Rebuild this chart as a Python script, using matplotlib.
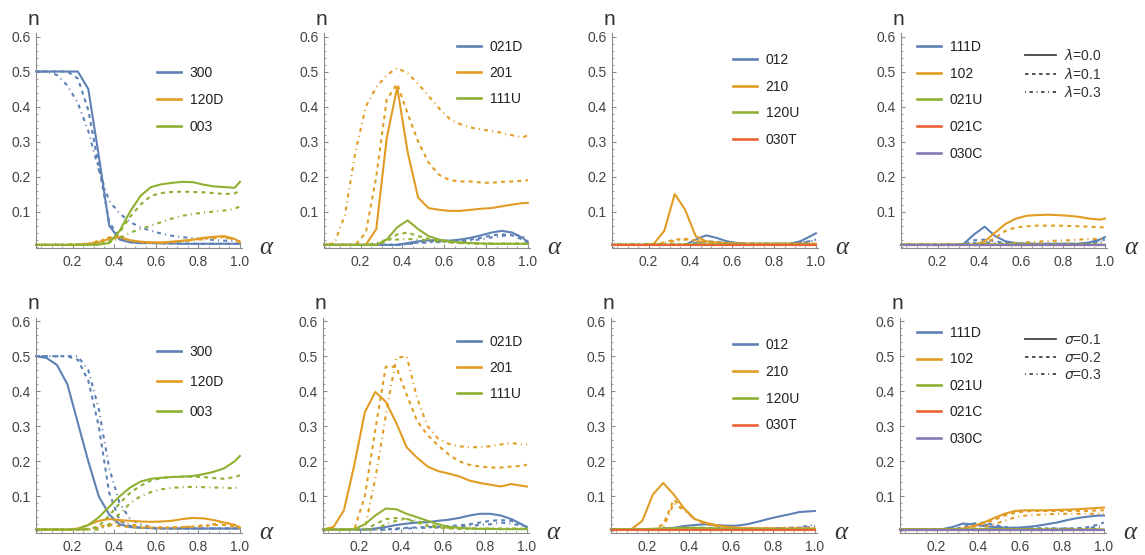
import matplotlib
matplotlib.use('Agg')
import matplotlib.pyplot as plt
from matplotlib.lines import Line2D
from matplotlib.ticker import FixedLocator, MultipleLocator

plt.rcParams['font.family'] = ['Liberation Sans', 'DejaVu Sans']

# alpha grid of the simulations
ALPHA = [0.025, 0.075, 0.125, 0.175, 0.225, 0.275, 0.325, 0.375, 0.425, 0.475,
         0.525, 0.575, 0.625, 0.675, 0.725, 0.775, 0.825, 0.875, 0.925, 0.975, 1.0]

# ---- top row: lambda = 0.0 / 0.1 / 0.3  (solid, dashed, dot-dashed) ----
L_300 = [
    [0.50, 0.50, 0.50, 0.50, 0.50, 0.45, 0.26, 0.06, 0.020, 0.012, 0.010, 0.010, 0.009, 0.009, 0.008, 0.008, 0.008, 0.008, 0.008, 0.008, 0.008],
    [0.50, 0.50, 0.50, 0.50, 0.48, 0.39, 0.23, 0.07, 0.025, 0.015, 0.012, 0.010, 0.010, 0.009, 0.009, 0.008, 0.008, 0.008, 0.008, 0.008, 0.008],
    [0.50, 0.50, 0.49, 0.46, 0.41, 0.33, 0.22, 0.13, 0.095, 0.070, 0.055, 0.045, 0.037, 0.031, 0.027, 0.024, 0.021, 0.019, 0.017, 0.016, 0.015],
]
L_120D = [
    [0.005, 0.005, 0.005, 0.005, 0.006, 0.008, 0.012, 0.022, 0.027, 0.018, 0.014, 0.012, 0.012, 0.014, 0.017, 0.020, 0.025, 0.028, 0.030, 0.022, 0.012],
    [0.005, 0.005, 0.005, 0.005, 0.006, 0.008, 0.014, 0.025, 0.028, 0.017, 0.013, 0.011, 0.011, 0.013, 0.016, 0.019, 0.023, 0.026, 0.028, 0.020, 0.012],
    [0.005, 0.005, 0.005, 0.005, 0.006, 0.009, 0.016, 0.026, 0.030, 0.018, 0.013, 0.011, 0.011, 0.012, 0.015, 0.018, 0.021, 0.024, 0.026, 0.022, 0.014],
]
L_003 = [
    [0.005, 0.005, 0.005, 0.005, 0.005, 0.005, 0.006, 0.010, 0.045, 0.100, 0.145, 0.170, 0.178, 0.182, 0.185, 0.184, 0.177, 0.172, 0.170, 0.168, 0.185],
    [0.005, 0.005, 0.005, 0.005, 0.005, 0.005, 0.006, 0.015, 0.040, 0.085, 0.120, 0.145, 0.153, 0.156, 0.157, 0.156, 0.155, 0.153, 0.150, 0.152, 0.160],
    [0.005, 0.005, 0.005, 0.005, 0.005, 0.005, 0.006, 0.012, 0.025, 0.040, 0.050, 0.060, 0.070, 0.080, 0.088, 0.093, 0.097, 0.100, 0.103, 0.108, 0.115],
]
L_021D = [
    [0.005, 0.005, 0.005, 0.005, 0.005, 0.005, 0.005, 0.005, 0.010, 0.015, 0.018, 0.018, 0.017, 0.020, 0.025, 0.032, 0.040, 0.045, 0.040, 0.025, 0.012],
    [0.005, 0.005, 0.005, 0.005, 0.005, 0.005, 0.005, 0.005, 0.008, 0.012, 0.014, 0.015, 0.015, 0.016, 0.020, 0.025, 0.032, 0.035, 0.032, 0.020, 0.010],
    [0.005, 0.005, 0.005, 0.005, 0.005, 0.005, 0.005, 0.005, 0.007, 0.010, 0.012, 0.013, 0.013, 0.014, 0.017, 0.021, 0.026, 0.030, 0.035, 0.030, 0.015],
]
L_201 = [
    [0.005, 0.005, 0.005, 0.005, 0.005, 0.050, 0.310, 0.455, 0.270, 0.140, 0.110, 0.105, 0.102, 0.102, 0.105, 0.108, 0.110, 0.115, 0.120, 0.124, 0.125],
    [0.005, 0.005, 0.005, 0.005, 0.040, 0.200, 0.420, 0.465, 0.380, 0.300, 0.240, 0.205, 0.190, 0.186, 0.186, 0.183, 0.182, 0.185, 0.186, 0.188, 0.190],
    [0.005, 0.010, 0.090, 0.270, 0.400, 0.455, 0.490, 0.510, 0.495, 0.465, 0.430, 0.395, 0.365, 0.350, 0.340, 0.335, 0.330, 0.325, 0.318, 0.312, 0.318],
]
L_111U = [
    [0.005, 0.005, 0.005, 0.005, 0.005, 0.005, 0.020, 0.055, 0.075, 0.050, 0.030, 0.020, 0.015, 0.012, 0.010, 0.009, 0.008, 0.008, 0.008, 0.008, 0.008],
    [0.005, 0.005, 0.005, 0.005, 0.005, 0.005, 0.015, 0.035, 0.040, 0.030, 0.022, 0.016, 0.012, 0.010, 0.009, 0.008, 0.008, 0.008, 0.008, 0.008, 0.008],
    [0.005, 0.005, 0.005, 0.005, 0.005, 0.010, 0.020, 0.020, 0.022, 0.020, 0.018, 0.015, 0.013, 0.011, 0.010, 0.009, 0.009, 0.009, 0.009, 0.009, 0.009],
]
L_012 = [
    [0.005, 0.005, 0.005, 0.005, 0.005, 0.005, 0.005, 0.005, 0.020, 0.032, 0.025, 0.015, 0.010, 0.008, 0.008, 0.008, 0.008, 0.008, 0.015, 0.030, 0.038],
    [0.005, 0.005, 0.005, 0.005, 0.005, 0.005, 0.005, 0.005, 0.010, 0.015, 0.014, 0.011, 0.009, 0.008, 0.008, 0.008, 0.008, 0.008, 0.010, 0.016, 0.020],
    [0.005, 0.005, 0.005, 0.005, 0.005, 0.005, 0.005, 0.005, 0.008, 0.012, 0.012, 0.010, 0.009, 0.008, 0.008, 0.008, 0.008, 0.008, 0.010, 0.015, 0.022],
]
L_210 = [
    [0.005, 0.005, 0.005, 0.005, 0.008, 0.045, 0.150, 0.105, 0.030, 0.015, 0.012, 0.010, 0.009, 0.008, 0.008, 0.008, 0.008, 0.008, 0.008, 0.008, 0.008],
    [0.005, 0.005, 0.005, 0.005, 0.005, 0.012, 0.020, 0.022, 0.018, 0.012, 0.010, 0.009, 0.008, 0.008, 0.008, 0.008, 0.008, 0.008, 0.008, 0.008, 0.008],
    [0.005, 0.005, 0.005, 0.005, 0.005, 0.010, 0.016, 0.020, 0.016, 0.012, 0.010, 0.009, 0.008, 0.008, 0.008, 0.008, 0.008, 0.008, 0.008, 0.008, 0.008],
]
L_120U = [
    [0.005, 0.005, 0.005, 0.005, 0.005, 0.005, 0.005, 0.006, 0.006, 0.006, 0.006, 0.006, 0.006, 0.006, 0.005, 0.005, 0.005, 0.005, 0.005, 0.005, 0.005],
    [0.005, 0.005, 0.005, 0.005, 0.005, 0.005, 0.005, 0.006, 0.006, 0.006, 0.006, 0.006, 0.006, 0.005, 0.005, 0.005, 0.005, 0.005, 0.005, 0.005, 0.005],
    [0.006, 0.006, 0.006, 0.006, 0.006, 0.006, 0.006, 0.006, 0.006, 0.006, 0.006, 0.006, 0.006, 0.006, 0.006, 0.006, 0.006, 0.006, 0.006, 0.006, 0.006],
]
L_030T = [
    [0.004, 0.004, 0.004, 0.004, 0.004, 0.004, 0.004, 0.004, 0.004, 0.004, 0.004, 0.004, 0.004, 0.004, 0.004, 0.004, 0.004, 0.004, 0.004, 0.004, 0.004],
    [0.004, 0.004, 0.004, 0.004, 0.004, 0.004, 0.004, 0.004, 0.004, 0.004, 0.004, 0.004, 0.004, 0.004, 0.004, 0.004, 0.004, 0.004, 0.004, 0.004, 0.004],
    [0.004, 0.004, 0.004, 0.004, 0.004, 0.004, 0.004, 0.004, 0.004, 0.004, 0.004, 0.004, 0.004, 0.004, 0.004, 0.004, 0.004, 0.004, 0.004, 0.004, 0.004],
]
L_111D = [
    [0.005, 0.005, 0.005, 0.005, 0.005, 0.005, 0.008, 0.035, 0.057, 0.030, 0.015, 0.010, 0.008, 0.008, 0.008, 0.008, 0.008, 0.008, 0.012, 0.020, 0.027],
    [0.005, 0.005, 0.005, 0.005, 0.005, 0.005, 0.005, 0.018, 0.020, 0.015, 0.010, 0.008, 0.008, 0.008, 0.008, 0.008, 0.008, 0.008, 0.010, 0.016, 0.020],
    [0.005, 0.005, 0.005, 0.005, 0.005, 0.005, 0.005, 0.010, 0.012, 0.010, 0.008, 0.008, 0.008, 0.008, 0.008, 0.008, 0.008, 0.008, 0.009, 0.012, 0.015],
]
L_102 = [
    [0.005, 0.005, 0.005, 0.005, 0.005, 0.005, 0.005, 0.005, 0.015, 0.040, 0.065, 0.080, 0.088, 0.090, 0.091, 0.090, 0.088, 0.085, 0.080, 0.077, 0.080],
    [0.005, 0.005, 0.005, 0.005, 0.005, 0.005, 0.005, 0.005, 0.008, 0.025, 0.045, 0.055, 0.058, 0.060, 0.060, 0.060, 0.059, 0.058, 0.057, 0.055, 0.055],
    [0.005, 0.005, 0.005, 0.005, 0.005, 0.005, 0.005, 0.005, 0.005, 0.005, 0.008, 0.010, 0.012, 0.014, 0.016, 0.017, 0.018, 0.020, 0.022, 0.022, 0.022],
]
L_021U = L_120U
L_021C = L_030T
L_030C = L_030T

# ---- bottom row: sigma = 0.1 / 0.2 / 0.3 ----
S_300 = [
    [0.50, 0.495, 0.475, 0.42, 0.31, 0.20, 0.10, 0.048, 0.020, 0.012, 0.010, 0.009, 0.008, 0.008, 0.008, 0.008, 0.008, 0.008, 0.008, 0.008, 0.008],
    [0.50, 0.50, 0.50, 0.50, 0.49, 0.43, 0.30, 0.11, 0.030, 0.015, 0.010, 0.009, 0.008, 0.008, 0.008, 0.008, 0.008, 0.008, 0.008, 0.008, 0.008],
    [0.50, 0.50, 0.50, 0.50, 0.50, 0.46, 0.35, 0.18, 0.080, 0.035, 0.020, 0.012, 0.010, 0.009, 0.008, 0.008, 0.008, 0.008, 0.008, 0.008, 0.008],
]
S_120D = [
    [0.005, 0.005, 0.005, 0.005, 0.008, 0.018, 0.030, 0.035, 0.032, 0.030, 0.028, 0.027, 0.028, 0.030, 0.035, 0.038, 0.037, 0.032, 0.025, 0.018, 0.010],
    [0.005, 0.005, 0.005, 0.005, 0.005, 0.007, 0.012, 0.020, 0.015, 0.012, 0.010, 0.010, 0.010, 0.011, 0.012, 0.013, 0.015, 0.018, 0.018, 0.013, 0.010],
    [0.005, 0.005, 0.005, 0.005, 0.005, 0.006, 0.010, 0.015, 0.030, 0.020, 0.015, 0.012, 0.011, 0.011, 0.012, 0.014, 0.017, 0.020, 0.025, 0.020, 0.012],
]
S_003 = [
    [0.005, 0.005, 0.005, 0.005, 0.006, 0.018, 0.040, 0.070, 0.100, 0.125, 0.142, 0.150, 0.153, 0.155, 0.156, 0.158, 0.163, 0.170, 0.180, 0.200, 0.215],
    [0.005, 0.005, 0.005, 0.005, 0.005, 0.005, 0.015, 0.045, 0.080, 0.110, 0.130, 0.145, 0.152, 0.155, 0.156, 0.156, 0.155, 0.152, 0.150, 0.155, 0.160],
    [0.005, 0.005, 0.005, 0.005, 0.005, 0.005, 0.005, 0.020, 0.050, 0.080, 0.100, 0.112, 0.120, 0.124, 0.126, 0.127, 0.126, 0.125, 0.125, 0.122, 0.130],
]
S_021D = [
    [0.005, 0.005, 0.005, 0.005, 0.005, 0.008, 0.012, 0.018, 0.022, 0.025, 0.026, 0.030, 0.033, 0.038, 0.045, 0.050, 0.050, 0.045, 0.035, 0.020, 0.012],
    [0.005, 0.005, 0.005, 0.005, 0.005, 0.005, 0.005, 0.008, 0.010, 0.011, 0.012, 0.013, 0.015, 0.017, 0.020, 0.025, 0.030, 0.032, 0.030, 0.020, 0.012],
    [0.005, 0.005, 0.005, 0.005, 0.005, 0.005, 0.005, 0.006, 0.008, 0.009, 0.010, 0.011, 0.012, 0.014, 0.016, 0.018, 0.020, 0.025, 0.022, 0.016, 0.010],
]
S_201 = [
    [0.005, 0.012, 0.060, 0.190, 0.340, 0.398, 0.370, 0.310, 0.240, 0.210, 0.185, 0.172, 0.165, 0.157, 0.145, 0.138, 0.133, 0.128, 0.135, 0.130, 0.128],
    [0.005, 0.005, 0.005, 0.006, 0.100, 0.290, 0.470, 0.470, 0.390, 0.315, 0.275, 0.245, 0.220, 0.200, 0.190, 0.185, 0.182, 0.182, 0.185, 0.187, 0.190],
    [0.005, 0.005, 0.005, 0.005, 0.008, 0.150, 0.330, 0.495, 0.500, 0.380, 0.300, 0.265, 0.250, 0.243, 0.240, 0.240, 0.243, 0.248, 0.252, 0.248, 0.248],
]
S_111U = [
    [0.005, 0.005, 0.005, 0.006, 0.020, 0.045, 0.065, 0.063, 0.050, 0.040, 0.030, 0.020, 0.013, 0.010, 0.008, 0.007, 0.007, 0.006, 0.006, 0.006, 0.006],
    [0.005, 0.005, 0.005, 0.005, 0.005, 0.020, 0.035, 0.038, 0.035, 0.025, 0.015, 0.010, 0.008, 0.007, 0.007, 0.007, 0.007, 0.007, 0.007, 0.007, 0.007],
    [0.005, 0.005, 0.005, 0.005, 0.005, 0.005, 0.020, 0.030, 0.035, 0.030, 0.020, 0.013, 0.010, 0.008, 0.008, 0.008, 0.008, 0.008, 0.008, 0.008, 0.008],
]
S_012 = [
    [0.005, 0.005, 0.005, 0.005, 0.005, 0.008, 0.010, 0.015, 0.018, 0.020, 0.018, 0.016, 0.016, 0.020, 0.027, 0.035, 0.042, 0.048, 0.055, 0.057, 0.058],
    [0.005, 0.005, 0.005, 0.005, 0.005, 0.005, 0.005, 0.008, 0.010, 0.010, 0.009, 0.009, 0.008, 0.008, 0.008, 0.008, 0.008, 0.009, 0.010, 0.012, 0.015],
    [0.005, 0.005, 0.005, 0.005, 0.005, 0.005, 0.005, 0.007, 0.009, 0.010, 0.009, 0.008, 0.008, 0.008, 0.008, 0.008, 0.009, 0.010, 0.012, 0.016, 0.020],
]
S_210 = [
    [0.005, 0.005, 0.007, 0.030, 0.105, 0.138, 0.105, 0.065, 0.035, 0.025, 0.018, 0.013, 0.010, 0.009, 0.008, 0.008, 0.008, 0.008, 0.008, 0.008, 0.008],
    [0.005, 0.005, 0.005, 0.005, 0.005, 0.020, 0.090, 0.065, 0.035, 0.022, 0.015, 0.012, 0.010, 0.009, 0.008, 0.008, 0.008, 0.008, 0.008, 0.008, 0.008],
    [0.005, 0.005, 0.005, 0.005, 0.005, 0.010, 0.080, 0.060, 0.035, 0.022, 0.015, 0.012, 0.010, 0.009, 0.008, 0.008, 0.008, 0.008, 0.008, 0.008, 0.008],
]
S_120U = [
    [0.006, 0.006, 0.006, 0.006, 0.007, 0.008, 0.009, 0.010, 0.010, 0.009, 0.008, 0.007, 0.007, 0.006, 0.006, 0.006, 0.006, 0.006, 0.006, 0.006, 0.006],
    [0.005, 0.005, 0.005, 0.005, 0.005, 0.006, 0.007, 0.008, 0.008, 0.007, 0.007, 0.006, 0.006, 0.006, 0.006, 0.006, 0.006, 0.006, 0.006, 0.006, 0.006],
    [0.005, 0.005, 0.005, 0.005, 0.005, 0.006, 0.007, 0.008, 0.008, 0.007, 0.007, 0.006, 0.006, 0.006, 0.006, 0.006, 0.006, 0.006, 0.006, 0.006, 0.006],
]
S_030T = L_030T
S_111D = [
    [0.005, 0.005, 0.005, 0.005, 0.006, 0.012, 0.022, 0.020, 0.015, 0.012, 0.010, 0.010, 0.012, 0.015, 0.020, 0.025, 0.032, 0.038, 0.042, 0.045, 0.045],
    [0.005, 0.005, 0.005, 0.005, 0.005, 0.005, 0.012, 0.022, 0.025, 0.018, 0.012, 0.010, 0.009, 0.008, 0.008, 0.008, 0.008, 0.009, 0.012, 0.020, 0.025],
    [0.005, 0.005, 0.005, 0.005, 0.005, 0.005, 0.005, 0.015, 0.020, 0.015, 0.011, 0.009, 0.008, 0.008, 0.008, 0.008, 0.008, 0.008, 0.010, 0.013, 0.015],
]
S_102 = [
    [0.005, 0.005, 0.005, 0.005, 0.005, 0.005, 0.008, 0.015, 0.025, 0.038, 0.050, 0.058, 0.060, 0.060, 0.060, 0.061, 0.062, 0.063, 0.065, 0.067, 0.068],
    [0.005, 0.005, 0.005, 0.005, 0.005, 0.005, 0.005, 0.012, 0.022, 0.032, 0.045, 0.053, 0.057, 0.058, 0.058, 0.058, 0.058, 0.058, 0.058, 0.060, 0.060],
    [0.005, 0.005, 0.005, 0.005, 0.005, 0.005, 0.005, 0.005, 0.012, 0.020, 0.030, 0.040, 0.045, 0.047, 0.048, 0.050, 0.050, 0.050, 0.050, 0.050, 0.050],
]
S_021U = L_120U
S_021C = L_030T
S_030C = L_030T

BLUE = '#5E81B5'
ORANGE = '#E19C24'
GREEN = '#8FB032'
RED = '#EB6235'
PURPLE = '#8778B3'

LW = 1.5
STYLES = ['-', (0, (1.9, 2.0)), (0, (0.5, 2.0, 1.9, 2.0))]

W, H = 1145, 555
FS = 10
FS_PX = FS * 100 / 72

# (axes left px, series, legend: first-row centre y, handle x, row pitch)
TOP = [
    (36, [('300', BLUE, L_300), ('120D', ORANGE, L_120D), ('003', GREEN, L_003)], (73, 157, 27)),
    (324, [('021D', BLUE, L_021D), ('201', ORANGE, L_201), ('111U', GREEN, L_111U)], (47, 457, 26)),
    (612, [('012', BLUE, L_012), ('210', ORANGE, L_210), ('120U', GREEN, L_120U), ('030T', RED, L_030T)], (60, 733, 26.5)),
    (901, [('111D', BLUE, L_111D), ('102', ORANGE, L_102), ('021U', GREEN, L_021U), ('021C', RED, L_021C), ('030C', PURPLE, L_030C)], (47, 917, 26.5)),
]
BOTTOM = [
    (36, [('300', BLUE, S_300), ('120D', ORANGE, S_120D), ('003', GREEN, S_003)], (352, 157, 30)),
    (323, [('021D', BLUE, S_021D), ('201', ORANGE, S_201), ('111U', GREEN, S_111U)], (342, 457, 26)),
    (611, [('012', BLUE, S_012), ('210', ORANGE, S_210), ('120U', GREEN, S_120U), ('030T', RED, S_030T)], (345, 733, 26.7)),
    (900, [('111D', BLUE, S_111D), ('102', ORANGE, S_102), ('021U', GREEN, S_021U), ('021C', RED, S_021C), ('030C', PURPLE, S_030C)], (333, 917, 26.3)),
]
LAMBDA_LABELS = [r'$\lambda$=0.0', r'$\lambda$=0.1', r'$\lambda$=0.3']
SIGMA_LABELS = [r'$\sigma$=0.1', r'$\sigma$=0.2', r'$\sigma$=0.3']


def setup_axes(ax):
    ax.set_xlim(0.025, 1.01)
    ax.set_ylim(-0.004, 0.61)
    for s in ('top', 'right'):
        ax.spines[s].set_visible(False)
    for s in ('left', 'bottom'):
        ax.spines[s].set_color('#8c8c8c')
        ax.spines[s].set_linewidth(0.8)
    ax.xaxis.set_major_locator(FixedLocator([0.2, 0.4, 0.6, 0.8, 1.0]))
    ax.xaxis.set_minor_locator(MultipleLocator(0.05))
    ax.yaxis.set_major_locator(FixedLocator([0.1, 0.2, 0.3, 0.4, 0.5, 0.6]))
    ax.yaxis.set_minor_locator(MultipleLocator(0.02))
    ax.tick_params(which='both', direction='in', color='#8c8c8c', labelcolor='#444444', labelsize=FS)
    ax.tick_params(which='major', length=3, width=0.8)
    ax.tick_params(which='minor', length=1.6, width=0.6)
    ax.tick_params(axis='x', pad=5)
    ax.tick_params(axis='y', pad=4)
    ax.annotate('n', xy=(0, 1), xycoords='axes fraction', xytext=(-2, 10),
                textcoords='offset points', ha='center', va='center', fontsize=15, color='#333333')
    ax.annotate('α', xy=(1, 0), xycoords='axes fraction', xytext=(17, 0),
                textcoords='offset points', ha='center', va='center', fontsize=18,
                family=['Liberation Serif', 'DejaVu Serif'], style='italic', color='#333333')


def place_legend(target, handles, labels, spec, hlen, **kw):
    y_px, x_px, pitch = spec
    ls = (pitch - FS_PX) / FS_PX
    return target.legend(handles, labels, loc='upper left',
                         bbox_to_anchor=(x_px / W, 1 - (y_px - FS_PX / 2) / H),
                         bbox_transform=fig.transFigure, frameon=False, borderpad=0,
                         borderaxespad=0, handlelength=hlen, handletextpad=0.6,
                         labelspacing=ls, fontsize=FS, **kw)


fig = plt.figure(figsize=(W / 100, H / 100), dpi=100)

for row, (panels, bottom_px) in enumerate([(TOP, 248), (BOTTOM, 532.7)]):
    for left_px, series, spec in panels:
        ax = fig.add_axes([left_px / W, 1 - bottom_px / H, 206 / W, 215 / H])
        setup_axes(ax)
        for name, color, runs in series:
            for vals, ls in zip(runs, STYLES):
                ax.plot(ALPHA, vals, color=color, lw=LW, ls=ls, clip_on=False)
        handles = [Line2D([], [], color=c, lw=1.9) for _, c, _ in series]
        place_legend(ax, handles, [n for n, _, _ in series], spec, 1.75, labelcolor='#222222')

style_handles = [Line2D([], [], color='#444444', lw=1.3, ls=s) for s in STYLES]
place_legend(fig, style_handles, LAMBDA_LABELS, (55, 1025, 17.5), 2.2, labelcolor='#333333')
place_legend(fig, style_handles, SIGMA_LABELS, (340, 1025, 17.5), 2.2, labelcolor='#333333')

fig.savefig('out.png', dpi=100)
